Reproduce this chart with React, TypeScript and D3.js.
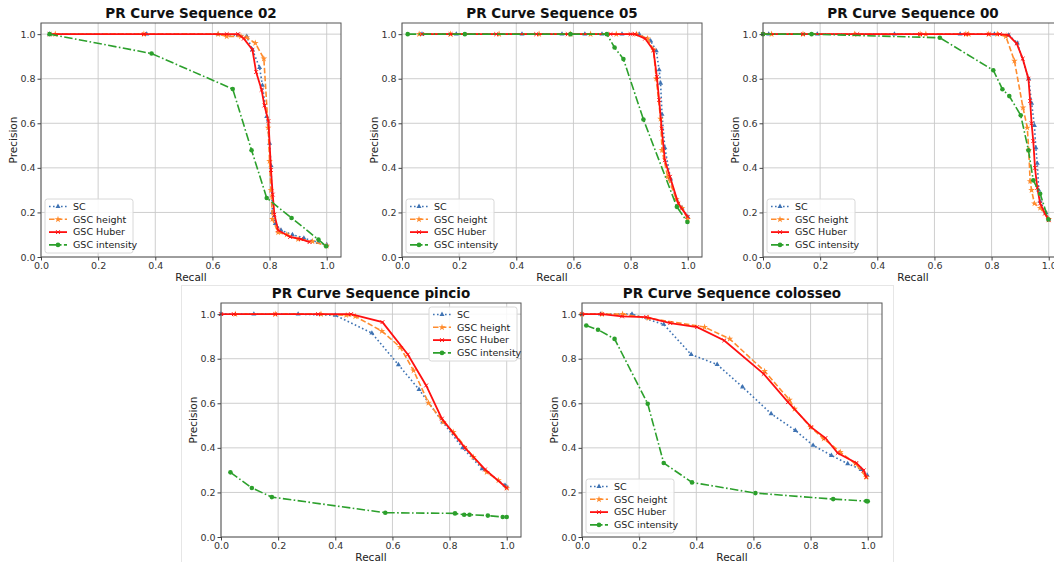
import React, { useEffect, useRef } from "react";
import * as d3 from "d3";

type Pt = [number, number];

// recall / precision pairs
const sc02: Pt[] = [[0.03,1.0],[0.37,1.0],[0.62,1.0],[0.69,0.995],[0.72,0.99],[0.74,0.93],[0.765,0.85],[0.775,0.77],[0.79,0.63],[0.80,0.51],[0.805,0.41],[0.81,0.20],[0.82,0.15],[0.84,0.12],[0.88,0.10],[0.92,0.085],[0.97,0.065],[1.0,0.055]];
const height02: Pt[] = [[0.05,1.0],[0.36,1.0],[0.62,1.0],[0.65,0.99],[0.70,0.99],[0.72,0.985],[0.75,0.96],[0.78,0.89],[0.795,0.58],[0.80,0.43],[0.805,0.30],[0.81,0.17],[0.83,0.11],[0.86,0.10],[0.90,0.08],[0.95,0.07],[1.0,0.05]];
const huber02: Pt[] = [[0.03,1.0],[0.36,1.0],[0.65,1.0],[0.69,1.0],[0.71,0.98],[0.74,0.93],[0.753,0.83],[0.772,0.75],[0.782,0.68],[0.796,0.61],[0.805,0.39],[0.811,0.28],[0.817,0.19],[0.83,0.12],[0.872,0.09],[0.91,0.08],[0.94,0.067]];
const intensity02: Pt[] = [[0.03,1.0],[0.387,0.913],[0.671,0.754],[0.737,0.479],[0.79,0.265],[0.877,0.175],[0.971,0.078],[0.998,0.048]];

const sc05: Pt[] = [[0.07,1.0],[0.19,1.0],[0.42,1.0],[0.56,1.0],[0.64,1.0],[0.70,1.0],[0.77,1.0],[0.83,1.0],[0.87,0.97],[0.89,0.925],[0.90,0.84],[0.905,0.78],[0.91,0.64],[0.92,0.49],[0.94,0.35],[0.96,0.26],[0.98,0.22],[1.0,0.18]];
const height05: Pt[] = [[0.06,1.0],[0.17,1.0],[0.34,1.0],[0.48,1.0],[0.59,1.0],[0.66,1.0],[0.75,1.0],[0.82,1.0],[0.86,0.98],[0.88,0.93],[0.89,0.80],[0.905,0.62],[0.91,0.48],[0.93,0.36],[0.96,0.26],[0.98,0.22],[1.0,0.17]];
const huber05: Pt[] = [[0.07,1.0],[0.17,1.0],[0.33,1.0],[0.47,1.0],[0.58,1.0],[0.73,1.0],[0.80,1.0],[0.816,1.0],[0.851,0.98],[0.88,0.928],[0.892,0.808],[0.90,0.704],[0.909,0.576],[0.92,0.434],[0.938,0.36],[0.967,0.24],[1.0,0.18]];
const intensity05: Pt[] = [[0.02,1.0],[0.22,1.0],[0.59,1.0],[0.717,1.0],[0.744,0.94],[0.775,0.888],[0.845,0.617],[0.962,0.225],[0.999,0.157]];

const sc00: Pt[] = [[0.02,1.0],[0.19,1.0],[0.46,1.0],[0.69,1.0],[0.81,1.0],[0.86,0.995],[0.89,0.96],[0.93,0.80],[0.94,0.69],[0.95,0.59],[0.955,0.49],[0.96,0.42],[0.965,0.30],[0.97,0.25],[0.99,0.20],[1.0,0.17]];
const height00: Pt[] = [[0.03,1.0],[0.14,1.0],[0.32,1.0],[0.55,1.0],[0.57,1.0],[0.71,1.0],[0.72,1.0],[0.79,1.0],[0.82,1.0],[0.85,0.99],[0.88,0.88],[0.91,0.67],[0.925,0.58],[0.93,0.48],[0.935,0.34],[0.94,0.30],[0.95,0.24],[0.97,0.22],[1.0,0.17]];
const huber00: Pt[] = [[0.0,1.0],[0.14,1.0],[0.33,1.0],[0.55,1.0],[0.71,1.0],[0.79,1.0],[0.829,1.0],[0.859,0.996],[0.888,0.958],[0.909,0.89],[0.929,0.80],[0.935,0.70],[0.94,0.60],[0.946,0.52],[0.952,0.40],[0.96,0.31],[0.97,0.24],[0.987,0.195],[1.0,0.165]];
const intensity00: Pt[] = [[0.0,1.0],[0.17,1.0],[0.619,0.984],[0.806,0.838],[0.838,0.753],[0.862,0.722],[0.902,0.636],[0.929,0.479],[0.946,0.344],[0.97,0.284],[0.999,0.168]];

const scPincio: Pt[] = [[0.0,1.0],[0.115,1.0],[0.27,1.0],[0.40,0.995],[0.528,0.915],[0.621,0.773],[0.693,0.662],[0.776,0.516],[0.846,0.40],[0.914,0.306],[0.994,0.232],[1.0,0.225]];
const heightPincio: Pt[] = [[0.05,1.0],[0.19,1.0],[0.35,1.0],[0.438,0.995],[0.47,0.99],[0.563,0.924],[0.627,0.852],[0.674,0.747],[0.726,0.602],[0.778,0.516],[0.813,0.471],[0.883,0.359],[0.93,0.291],[0.971,0.254],[1.0,0.22]];
const huberPincio: Pt[] = [[0.0,1.0],[0.045,1.0],[0.19,1.0],[0.34,1.0],[0.455,1.0],[0.565,0.964],[0.654,0.819],[0.718,0.68],[0.773,0.531],[0.854,0.40],[0.924,0.303],[1.0,0.22]];
const intensityPincio: Pt[] = [[0.033,0.29],[0.108,0.22],[0.178,0.179],[0.575,0.109],[0.819,0.106],[0.851,0.10],[0.87,0.10],[0.934,0.096],[0.986,0.09],[1.0,0.09]];

const scColosseo: Pt[] = [[0.0,1.0],[0.065,1.0],[0.175,1.0],[0.286,0.954],[0.382,0.819],[0.473,0.774],[0.562,0.673],[0.662,0.553],[0.747,0.478],[0.809,0.411],[0.873,0.366],[0.93,0.329],[0.977,0.303],[0.998,0.277]];
const heightColosseo: Pt[] = [[0.0,1.0],[0.07,1.0],[0.142,1.0],[0.233,0.982],[0.429,0.942],[0.517,0.889],[0.639,0.744],[0.726,0.616],[0.744,0.575],[0.80,0.493],[0.846,0.441],[0.904,0.381],[0.957,0.329],[0.995,0.269]];
const huberColosseo: Pt[] = [[0.0,1.0],[0.07,1.0],[0.14,0.99],[0.225,0.987],[0.309,0.96],[0.403,0.942],[0.498,0.882],[0.636,0.732],[0.721,0.605],[0.802,0.493],[0.852,0.444],[0.895,0.377],[0.96,0.332],[0.986,0.299],[0.995,0.269]];
const intensityColosseo: Pt[] = [[0.015,0.949],[0.056,0.93],[0.114,0.889],[0.23,0.598],[0.286,0.332],[0.385,0.245],[0.607,0.197],[0.879,0.17],[0.995,0.161],[1.0,0.16]];

const seriesNames = ["SC", "GSC height", "GSC Huber", "GSC intensity"];
const tickValues = [0, 0.2, 0.4, 0.6, 0.8, 1.0];

const styles = [
  { color: "#3f73b3", dash: "1.6,2.4", width: 1.6, marker: "tri" },
  { color: "#ff8c2e", dash: "5.5,2.4", width: 1.6, marker: "star" },
  { color: "#ff1010", dash: null, width: 1.8, marker: "x" },
  { color: "#2ca02c", dash: "8.5,2.4,1.6,2.4", width: 1.6, marker: "dot" },
];

const panels = [
  { title: "PR Curve Sequence 02", x: 41, y: 23, legend: "ll", series: [sc02, height02, huber02, intensity02] },
  { title: "PR Curve Sequence 05", x: 402, y: 23, legend: "ll", series: [sc05, height05, huber05, intensity05] },
  { title: "PR Curve Sequence 00", x: 763, y: 23, legend: "ll", series: [sc00, height00, huber00, intensity00] },
  { title: "PR Curve Sequence pincio", x: 221, y: 303, legend: "ur", series: [scPincio, heightPincio, huberPincio, intensityPincio] },
  { title: "PR Curve Sequence colosseo", x: 582, y: 303, legend: "ll", series: [scColosseo, heightColosseo, huberColosseo, intensityColosseo] },
];

const W = 1054;
const H = 562;
const PW = 300;
const PH = 234;
const FONT = "DejaVu Sans, sans-serif";

const App = () => {
  const ref = useRef<SVGSVGElement | null>(null);

  useEffect(() => {
    const svg = d3.select(ref.current);
    svg.selectAll("*").remove();

    svg.append("rect").attr("width", W).attr("height", H).attr("fill", "#fff");
    // panel frame around the bottom row
    svg.append("rect")
      .attr("x", 181.5).attr("y", 285.5).attr("width", 712).attr("height", 290)
      .attr("fill", "#fff").attr("stroke", "#e6e6e6");

    const drawMarker = (g: any, kind: string, color: string, px: number, py: number) => {
      if (kind === "tri") {
        g.append("path").attr("d", d3.symbol().type(d3.symbolTriangle).size(11)())
          .attr("transform", `translate(${px},${py})`).attr("fill", color);
      } else if (kind === "star") {
        g.append("path").attr("d", d3.symbol().type(d3.symbolStar).size(14)())
          .attr("transform", `translate(${px},${py})`).attr("fill", color);
      } else if (kind === "x") {
        g.append("path").attr("d", d3.symbol().type(d3.symbolX).size(11)())
          .attr("transform", `translate(${px},${py})`).attr("fill", "none")
          .attr("stroke", color).attr("stroke-width", 1);
      } else {
        g.append("circle").attr("cx", px).attr("cy", py).attr("r", 2.3).attr("fill", color);
      }
    };

    panels.forEach((p) => {
      const g = svg.append("g").attr("transform", `translate(${p.x},${p.y})`);
      const x = d3.scaleLinear().domain([0, 1.05]).range([0, PW]);
      const y = d3.scaleLinear().domain([0, 1.05]).range([PH, 0]);

      // grid
      tickValues.forEach((t) => {
        g.append("line").attr("x1", x(t)).attr("x2", x(t)).attr("y1", 0).attr("y2", PH)
          .attr("stroke", "#c8c8c8").attr("stroke-width", 0.9);
        g.append("line").attr("x1", 0).attr("x2", PW).attr("y1", y(t)).attr("y2", y(t))
          .attr("stroke", "#c8c8c8").attr("stroke-width", 0.9);
      });

      // curves
      const line = d3.line<Pt>().x((d) => x(d[0])).y((d) => y(d[1]));
      p.series.forEach((data, i) => {
        const s = styles[i];
        g.append("path").datum(data).attr("d", line).attr("fill", "none")
          .attr("stroke", s.color).attr("stroke-width", s.width)
          .attr("stroke-dasharray", s.dash ?? null);
        data.forEach((d) => drawMarker(g, s.marker, s.color, x(d[0]), y(d[1])));
      });

      // frame
      g.append("rect").attr("x", 0).attr("y", 0).attr("width", PW).attr("height", PH)
        .attr("fill", "none").attr("stroke", "#555").attr("stroke-width", 1);

      // axes
      const xa = g.append("g").attr("transform", `translate(0,${PH})`)
        .call(d3.axisBottom(x).tickValues(tickValues).tickFormat(d3.format(".1f")).tickSize(3.5).tickPadding(2));
      const ya = g.append("g")
        .call(d3.axisLeft(y).tickValues(tickValues).tickFormat(d3.format(".1f")).tickSize(3.5).tickPadding(2));
      [xa, ya].forEach((a) => {
        a.select(".domain").remove();
        a.selectAll("line").attr("stroke", "#444");
        a.selectAll("text").attr("fill", "#333").style("font-size", "9.5px").style("font-family", FONT);
      });

      g.append("text").attr("x", PW / 2).attr("y", -5).attr("text-anchor", "middle")
        .style("font-family", FONT).style("font-size", "13.5px").style("font-weight", "bold")
        .attr("fill", "#111").text(p.title);
      g.append("text").attr("x", PW / 2).attr("y", PH + 24).attr("text-anchor", "middle")
        .style("font-family", FONT).style("font-size", "10.5px").attr("fill", "#222").text("Recall");
      g.append("text").attr("transform", `translate(-24,${PH / 2}) rotate(-90)`).attr("text-anchor", "middle")
        .style("font-family", FONT).style("font-size", "10.5px").attr("fill", "#222").text("Precision");

      // legend
      const lw = 88;
      const lh = 54;
      const lx = p.legend === "ur" ? PW - lw - 4 : 4;
      const ly = p.legend === "ur" ? 4 : PH - lh - 4;
      const lg = g.append("g").attr("transform", `translate(${lx},${ly})`);
      lg.append("rect").attr("width", lw).attr("height", lh).attr("rx", 2.5)
        .attr("fill", "#fff").attr("fill-opacity", 0.85).attr("stroke", "#d8d8d8");
      seriesNames.forEach((name, i) => {
        const s = styles[i];
        const cy = 7.5 + i * 12.8;
        lg.append("line").attr("x1", 4).attr("x2", 22).attr("y1", cy).attr("y2", cy)
          .attr("stroke", s.color).attr("stroke-width", s.width).attr("stroke-dasharray", s.dash ?? null);
        drawMarker(lg, s.marker, s.color, 13, cy);
        lg.append("text").attr("x", 28).attr("y", cy + 3.3).style("font-family", FONT)
          .style("font-size", "9.5px").attr("fill", "#222").text(name);
      });
    });
  }, []);

  return (
    <svg ref={ref} width={W} height={H} style={{ position: "absolute", left: 0, top: 0 }} />
  );
};

export default App;
